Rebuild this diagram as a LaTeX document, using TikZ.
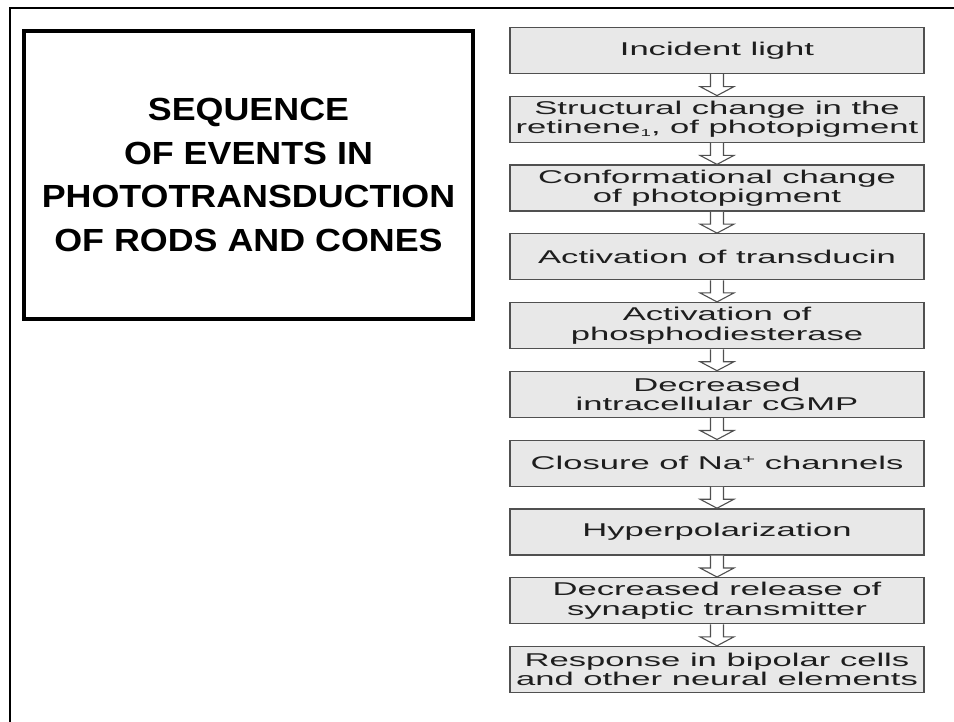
\documentclass[tikz,border=0pt]{standalone}
\usepackage{fontspec}
\setmainfont{Liberation Sans}
\newfontfamily\stepfont[FakeStretch=1.87]{Liberation Sans}
\newfontfamily\titlefont[FakeStretch=1.12]{Liberation Sans}
\usepackage{tikz}
\usetikzlibrary{calc}
\definecolor{boxgray}{RGB}{232, 232, 232}
\definecolor{edgegray}{RGB}{80, 80, 80}
\definecolor{inkgray}{RGB}{30, 30, 30}
\tikzset{
  stepbox/.style={draw=edgegray, fill=boxgray, line width=1.4pt, minimum width=414pt,
    minimum height=46pt, inner sep=0pt, align=center, text=inkgray,
    font=\stepfont\fontsize{18.5}{19.5}\selectfont},
  titlebox/.style={draw=black, line width=3.5pt, minimum width=449pt, minimum height=288pt,
    inner sep=0pt, align=center, font=\titlefont\bfseries\fontsize{32}{43.5}\selectfont},
  hollow/.style={draw=edgegray, fill=white, line width=1.1pt, line join=miter}
}
% hollow down arrow from one box to the next
\newcommand{\flowarrow}[2]{%
  \draw[hollow] ([xshift=-6.5pt]#1.south) |- ([xshift=-17pt, yshift=9pt]#2.north)
    -- (#2.north) -- ([xshift=17pt, yshift=9pt]#2.north) -| ([xshift=6.5pt]#1.south);}

\begin{document}
\begin{tikzpicture}[x=1pt, y=-1pt]
    \useasboundingbox (0, 0) rectangle (954, 722);
    \draw[line width=2pt] (10, 722) -- (10, 8) -- (954, 8);

    \node[titlebox] (title) at (248.5, 175) {SEQUENCE\\OF EVENTS IN\\PHOTOTRANSDUCTION\\OF RODS AND CONES};

    \node[stepbox] (light) at (717, 50.5) {Incident light};
    \node[stepbox] (retinene) at (717, 119.3) {Structural change in the\\retinene\raisebox{-0.3ex}{\fontsize{10}{10}\selectfont 1}, of photopigment};
    \node[stepbox] (conform) at (717, 188.1) {Conformational change\\of photopigment};
    \node[stepbox] (transducin) at (717, 256.8) {Activation of transducin};
    \node[stepbox] (pde) at (717, 325.6) {Activation of\\phosphodiesterase};
    \node[stepbox] (cgmp) at (717, 394.4) {Decreased\\intracellular cGMP};
    \node[stepbox] (sodium) at (717, 463.2) {Closure of Na\raisebox{0.6ex}{\fontsize{12}{12}\selectfont +} channels};
    \node[stepbox] (hyper) at (717, 531.9) {Hyperpolarization};
    \node[stepbox] (release) at (717, 600.7) {Decreased release of\\synaptic transmitter};
    \node[stepbox] (bipolar) at (717, 669.5) {Response in bipolar cells\\and other neural elements};

    \flowarrow{light}{retinene}
    \flowarrow{retinene}{conform}
    \flowarrow{conform}{transducin}
    \flowarrow{transducin}{pde}
    \flowarrow{pde}{cgmp}
    \flowarrow{cgmp}{sodium}
    \flowarrow{sodium}{hyper}
    \flowarrow{hyper}{release}
    \flowarrow{release}{bipolar}
\end{tikzpicture}
\end{document}
